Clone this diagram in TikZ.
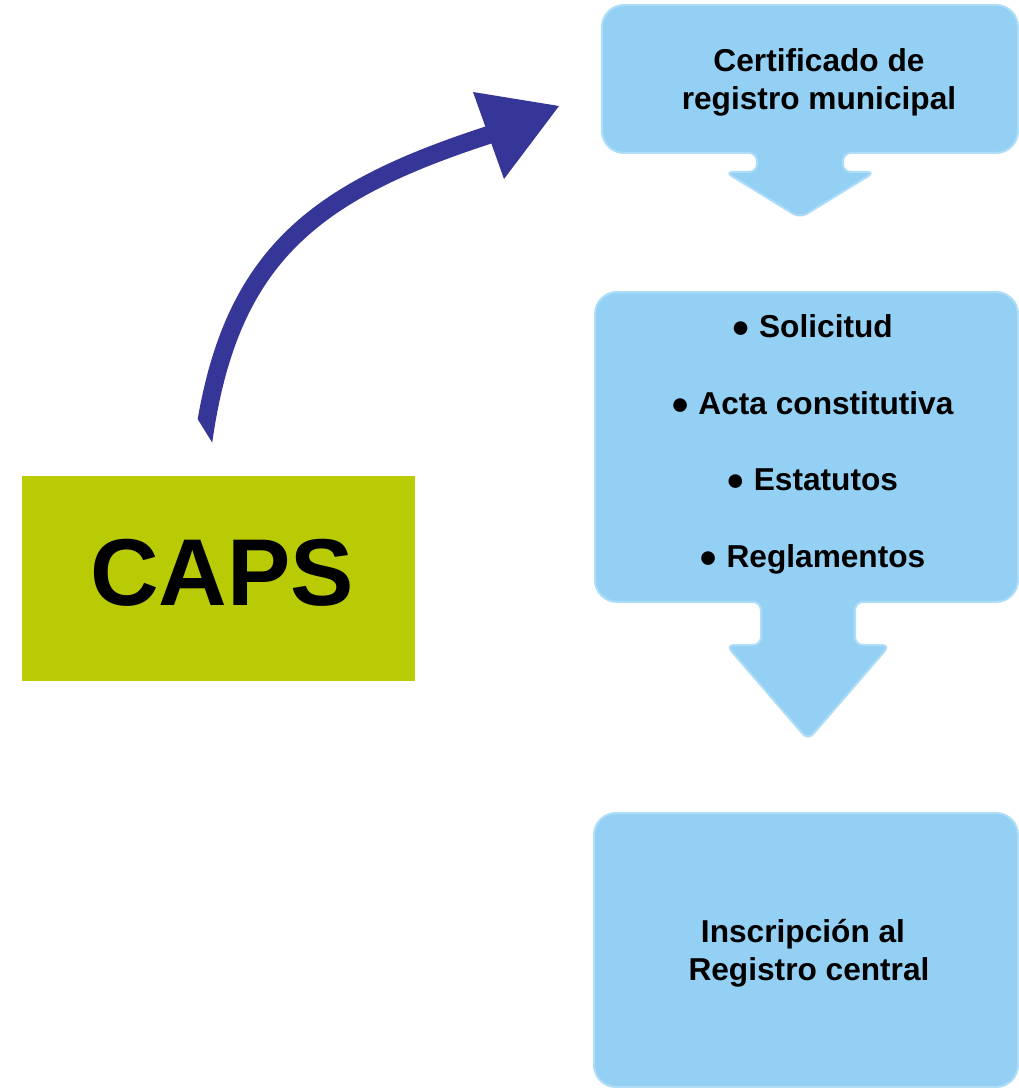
\documentclass[tikz,border=0pt]{standalone}
\usepackage{fontspec}
\setmainfont{Liberation Sans}
\definecolor{cajaazul}{RGB}{148,208,244}
\definecolor{bordeazul}{RGB}{174,221,248}
\definecolor{verdecaps}{RGB}{185,203,5}
\definecolor{flechaazul}{RGB}{54,54,152}
\begin{document}
\begin{tikzpicture}[x=0.01cm,y=-0.01cm,
  caja/.style={fill=cajaazul,draw=bordeazul,line width=0.02cm},
  texto/.style={font=\fontsize{9}{10.8}\selectfont\bfseries,inner sep=0pt,anchor=base}]
\useasboundingbox (0,0) rectangle (1019,1088);
% box with a down arrow under it:
% left, right, top, bottom, middle, stem half width, stem end, head half width, tip
\newcommand{\cajaflecha}[9]{
  \path[caja] (#5,#3) [rounded corners=0.22cm] -- (#2,#3) -- (#2,#4)
    [rounded corners=0.08cm] -- (#5+#6,#4) -- (#5+#6,#7) -- (#5+#8,#7) -- (#5,#9)
    -- (#5-#8,#7) -- (#5-#6,#7) -- (#5-#6,#4)
    [rounded corners=0.22cm] -- (#1,#4) -- (#1,#3) -- cycle;
}

% the three blue steps
\cajaflecha{602}{1018}{5}{153}{800}{43}{172}{75}{218}
\cajaflecha{595}{1018}{292}{602}{808}{47}{645}{82}{740}
\path[caja,rounded corners=0.22cm] (594,813) rectangle (1018,1087);

\node[texto] (cert1) at (819,72) {Certificado de};
\node[texto] (cert2) at (819,110) {registro municipal};
%list of papers:
\foreach \y/\doc [count=\i] in {337/Solicitud,414/Acta constitutiva,490/Estatutos,567/Reglamentos} {
  \node[texto] (doc\i) at (812,\y) {● \doc};
}
\node[texto] (insc1) at (803,942) {Inscripción al};
\node[texto] (insc2) at (809,980) {Registro central};

% CAPS box
\node[fill=verdecaps,inner sep=0pt,minimum width=3.93cm,minimum height=2.05cm] (caps) at (218.5,578.5) {};
\node[font=\fontsize{27}{30}\selectfont\bfseries,inner sep=0pt] (capstxt) at (222,573) {CAPS};

% curved arrow up to the first step
\coordinate (colabaja) at (201.6,452);
\coordinate (cola) at (205,430);
\coordinate (base) at (490,134.5);
\coordinate (alaA) at (473,92);
\coordinate (punta) at (559,106);
\coordinate (alaB) at (504,179);
\begin{scope}
  % slanted cut at the tail
  \clip (150,342) -- (240.3,488) -- (700,488) -- (700,0) -- (150,0) -- cycle;
  \draw[flechaazul,line width=0.18cm]
    (colabaja) -- (cola) .. controls (233,252) and (319,190) .. (base);
\end{scope}
\fill[flechaazul] (alaA) -- (punta) -- (alaB) -- cycle;
\end{tikzpicture}
\end{document}
